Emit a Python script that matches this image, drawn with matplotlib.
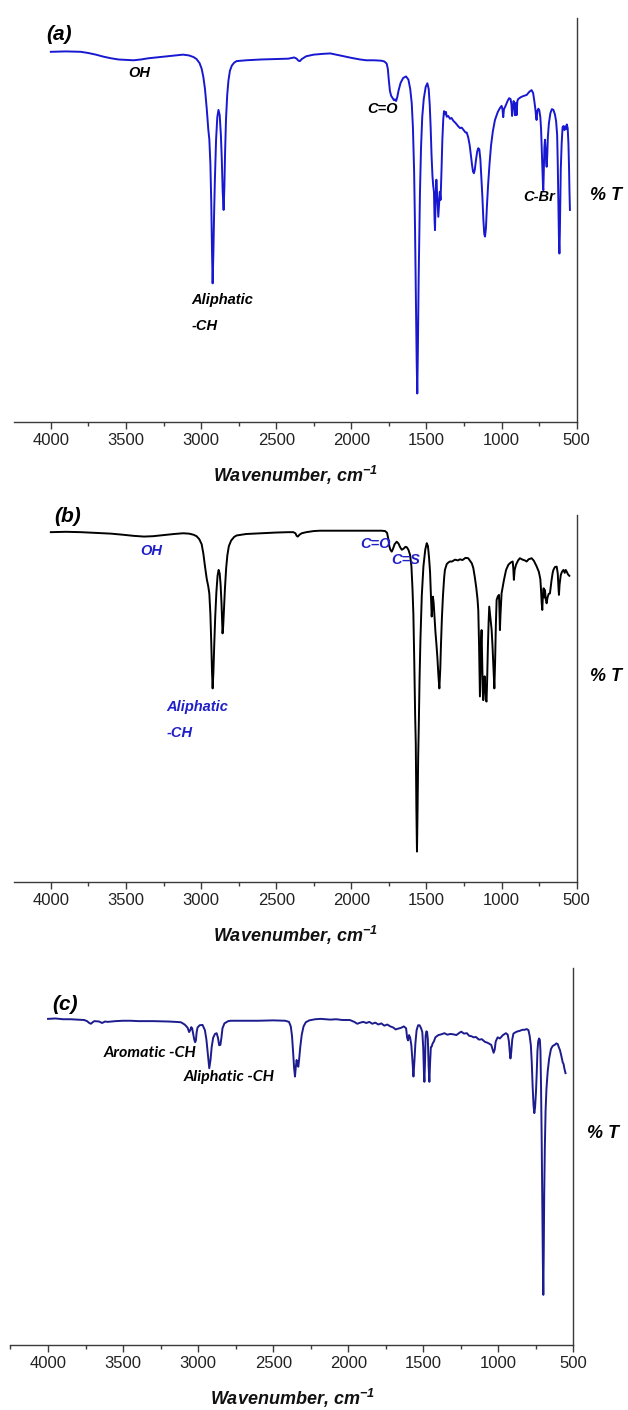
import matplotlib
matplotlib.use("Agg")
import matplotlib.pyplot as plt
from matplotlib.ticker import MultipleLocator

plt.rcParams['font.family'] = 'Liberation Sans'
plt.rcParams['mathtext.fontset'] = 'custom'
plt.rcParams['mathtext.rm'] = 'Liberation Sans:bold:italic'
plt.rcParams['mathtext.bf'] = 'Liberation Sans:bold:italic'
plt.rcParams['mathtext.it'] = 'Liberation Sans:bold:italic'

# (a) spectrum: wavenumber (cm-1) and transmittance (%)
wn_a = [4000, 3900, 3800, 3750, 3700, 3650, 3600, 3550, 3500, 3450, 3400, 3350,
        3300, 3250, 3200, 3150, 3120, 3080, 3050, 3030, 3010, 2996, 2985, 2974,
        2962, 2952, 2945, 2938, 2932, 2927, 2923, 2918, 2913, 2908, 2900, 2892,
        2884, 2876, 2868, 2862, 2856, 2850, 2845, 2840, 2834, 2826, 2818, 2808,
        2795, 2780, 2763, 2700, 2600, 2500, 2420, 2380, 2364, 2352, 2342, 2330,
        2300, 2250, 2187, 2140, 2100, 2050, 2000, 1942, 1900, 1850, 1800, 1780,
        1765, 1757, 1750, 1743, 1735, 1725, 1716, 1709, 1702, 1694, 1685, 1672,
        1655, 1636, 1620, 1608, 1598, 1590, 1582, 1576, 1570, 1565, 1561, 1557,
        1552, 1548, 1543, 1536, 1528, 1518, 1505, 1494, 1485, 1478, 1472, 1466,
        1460, 1455, 1450, 1446, 1443, 1439, 1434, 1430, 1426, 1421, 1416, 1411,
        1406, 1400, 1394, 1388, 1383, 1376, 1370, 1365, 1355, 1343, 1333, 1321,
        1305, 1290, 1277, 1265, 1250, 1240, 1232, 1222, 1212, 1204, 1196, 1190,
        1184, 1178, 1170, 1162, 1155, 1148, 1141, 1135, 1128, 1121, 1115, 1110,
        1104, 1098, 1090, 1080, 1070, 1058, 1044, 1025, 1010, 1000, 994, 989,
        984, 977, 960, 950, 940, 934, 930, 926, 920, 914, 911, 906, 900, 895,
        889, 870, 850, 833, 815, 800, 790, 782, 775, 770, 767, 762, 755, 749,
        742, 737, 733, 728, 724, 722, 719, 715, 711, 707, 703, 700, 696, 692,
        685, 675, 665, 655, 645, 637, 630, 626, 622, 618, 615, 612, 609, 606,
        600, 594, 588, 582, 578, 572, 566, 560, 555, 551, 548, 545]
t_a = [91.7, 91.8, 91.7, 91.4, 91.0, 90.5, 90.1, 89.8, 89.7, 89.6, 89.8, 90.1,
       90.3, 90.5, 90.7, 90.9, 91.0, 90.8, 90.4, 89.9, 88.9, 87.5, 85.5, 82.5,
       77.5, 72.5, 70.0, 64.0, 54.0, 42.0, 34.3, 42.0, 52.0, 60.0, 70.0, 75.5,
       77.3, 76.0, 71.0, 65.0, 57.0, 52.5, 58.0, 67.0, 75.0, 81.0, 84.5, 87.0,
       88.3, 89.0, 89.4, 89.6, 89.8, 89.9, 90.0, 90.3, 90.0, 89.5, 89.4, 89.9,
       90.6, 91.0, 91.2, 91.3, 91.0, 90.6, 90.2, 89.8, 89.6, 89.6, 89.5, 89.3,
       88.8, 87.5, 84.5, 82.0, 80.8, 80.2, 79.7, 79.9, 79.5, 80.5, 82.2, 84.0,
       85.2, 85.6, 84.8, 82.5, 79.0, 73.0, 62.0, 48.0, 30.0, 15.0, 7.0, 18.0,
       35.0, 45.0, 57.0, 68.0, 75.5, 80.0, 83.0, 83.9, 82.5, 78.5, 73.0, 66.0,
       61.0, 58.5, 57.0, 50.0, 47.5, 55.0, 60.0, 57.0, 54.0, 50.8, 54.0, 57.0,
       55.0, 62.0, 70.0, 75.0, 77.0, 76.2, 76.8, 75.6, 75.8, 75.1, 75.3, 74.6,
       74.0, 73.3, 72.8, 72.9, 72.2, 71.7, 71.7, 70.5, 68.5, 66.0, 63.5, 62.0,
       61.6, 62.5, 65.0, 67.0, 67.8, 67.5, 65.0, 61.0, 56.0, 50.0, 46.5, 45.9,
       48.0, 53.0, 58.5, 64.0, 68.5, 72.0, 74.8, 76.8, 77.8, 78.3, 77.5, 75.5,
       77.5, 78.0, 79.5, 80.2, 80.0, 78.5, 75.8, 77.5, 79.5, 78.5, 76.0, 79.0, 76.0, 79.5,
       80.0, 80.5, 80.8, 81.0, 81.8, 82.2, 81.5, 79.5, 77.5, 75.5, 74.8, 77.0, 77.6, 77.2,
       75.5, 72.5, 68.0, 62.0, 58.0, 57.4, 62.0, 68.0, 69.9, 67.5, 64.5, 63.2, 66.0, 70.5,
       74.0, 76.5, 77.5, 77.3, 76.2, 74.5, 71.0, 64.0, 54.0, 45.0, 41.7, 47.0, 55.0, 62.5,
       69.0, 73.0, 73.3, 72.3, 73.2, 72.5, 73.7, 72.8, 69.0, 63.0, 57.0, 52.5]

# (b) spectrum
wn_b = [4000, 3900, 3800, 3700, 3600, 3520, 3450, 3380, 3320, 3250, 3180, 3120,
        3080, 3050, 3030, 3012, 2996, 2985, 2974, 2962, 2952, 2945, 2938, 2932,
        2927, 2923, 2918, 2912, 2906, 2898, 2890, 2883, 2876, 2870, 2864, 2860,
        2857, 2853, 2848, 2841, 2833, 2825, 2815, 2800, 2780, 2763, 2700, 2600,
        2500, 2420, 2386, 2372, 2364, 2356, 2345, 2330, 2300, 2250, 2209, 2100,
        2000, 1900, 1800, 1775, 1762, 1754, 1747, 1740, 1731, 1722, 1712, 1698,
        1686, 1675, 1664, 1652, 1640, 1631, 1620, 1609, 1600, 1593, 1587, 1581,
        1575, 1571, 1567, 1563, 1559, 1555, 1551, 1546, 1540, 1531, 1520, 1508,
        1498, 1490, 1483, 1476, 1470, 1465, 1461, 1457, 1452, 1446, 1440, 1434,
        1427, 1420, 1414, 1408, 1403, 1397, 1390, 1382, 1377, 1365, 1355, 1344,
        1330, 1310, 1290, 1277, 1260, 1240, 1222, 1210, 1198, 1188, 1178, 1168,
        1160, 1155, 1150, 1146, 1144, 1140, 1136, 1133, 1129, 1125, 1122, 1118,
        1113, 1109, 1104, 1100, 1096, 1091, 1086, 1082, 1077, 1071, 1066, 1060,
        1054, 1048, 1043, 1038, 1033, 1025, 1017, 1014, 1011, 1007, 1000, 992,
        984, 970, 955, 940, 926, 922, 918, 913, 904, 890, 878, 860, 845, 833,
        820, 800, 785, 767, 752, 742, 738, 733, 729, 725, 720, 715, 711, 706,
        700, 694, 686, 678, 668, 660, 655, 645, 633, 626, 621, 618, 614, 606,
        598, 588, 580, 573, 566, 558, 549]
t_b = [95.3, 95.4, 95.3, 95.1, 94.9, 94.6, 94.3, 94.1, 94.2, 94.5, 94.8, 95.0,
       94.9, 94.6, 94.2, 93.4, 92.0, 89.5, 86.0, 82.5, 80.5, 78.5, 73.0, 65.0,
       57.0, 52.7, 57.0, 65.0, 72.0, 79.0, 83.5, 85.0, 84.0, 81.0, 76.0, 71.0,
       67.7, 69.5, 74.0, 80.0, 85.5, 89.0, 91.5, 93.0, 94.0, 94.4, 94.8, 95.0,
       95.2, 95.3, 95.3, 95.0, 94.3, 94.1, 94.6, 95.0, 95.3, 95.6, 95.7, 95.7,
       95.7, 95.7, 95.7, 95.6, 95.1, 93.5, 91.5, 90.5, 90.0, 90.8, 92.0, 92.7,
       92.2, 91.2, 90.5, 90.8, 91.3, 91.2, 90.5, 89.1, 86.0, 80.0, 73.0, 60.0,
       45.0, 37.7, 20.0, 8.2, 20.0, 34.0, 42.3, 55.0, 66.0, 78.0, 86.0, 90.5,
       92.3, 91.5, 88.5, 84.5, 78.0, 72.3, 75.0, 77.7, 76.0, 72.0, 68.0, 65.0,
       61.0, 56.0, 52.7, 58.0, 65.0, 72.0, 78.0, 83.0, 85.0, 86.6, 87.0, 87.3,
       87.3, 87.8, 87.6, 87.9, 87.7, 88.3, 88.2, 87.5, 86.8, 85.5, 83.0, 80.0,
       77.0, 74.0, 65.0, 55.0, 50.5, 58.0, 66.0, 68.6, 60.0, 52.0, 49.5, 53.0,
       56.0, 53.0, 49.5, 49.1, 55.0, 64.0, 71.0, 75.0, 73.0, 70.5, 68.6, 64.0,
       58.0, 52.7, 60.0, 70.0, 76.8, 77.8, 78.2, 74.0, 68.6, 73.0, 78.6, 80.5,
       82.3, 85.0, 86.4, 87.0, 87.3, 85.5, 82.3, 85.0, 86.4, 87.6, 88.2, 87.8, 87.6, 87.3,
       87.9, 88.2, 87.5, 86.0, 84.5, 82.5, 80.0, 76.0, 74.1, 78.0, 80.0, 77.5, 79.5, 77.0,
       75.9, 77.5, 78.5, 78.6, 82.0, 84.2, 85.0, 85.8, 85.9, 84.0, 80.0, 78.2, 81.0, 83.6,
       84.5, 85.0, 84.2, 85.0, 84.5, 83.8, 83.4]

# (c) spectrum
wn_c = [4000, 3950, 3900, 3850, 3800, 3760, 3740, 3725, 3714, 3703, 3692, 3660,
        3640, 3620, 3603, 3550, 3500, 3448, 3400, 3300, 3200, 3150, 3115, 3090,
        3071, 3060, 3053, 3046, 3040, 3033, 3026, 3020, 3015, 3010, 3004, 2990,
        2971, 2955, 2945, 2936, 2926, 2918, 2910, 2900, 2888, 2877, 2868, 2860,
        2852, 2845, 2838, 2825, 2800, 2783, 2700, 2600, 2500, 2420, 2395, 2383,
        2375, 2368, 2361, 2355, 2350, 2344, 2339, 2333, 2328, 2320, 2310, 2298,
        2283, 2260, 2220, 2184, 2150, 2120, 2080, 2040, 1990, 1960, 1940, 1920,
        1900, 1880, 1860, 1840, 1820, 1800, 1780, 1760, 1740, 1720, 1700, 1685,
        1669, 1650, 1630, 1615, 1608, 1602, 1595, 1588, 1580, 1572, 1566, 1560,
        1553, 1545, 1535, 1525, 1515, 1507, 1501, 1496, 1493, 1489, 1485, 1480,
        1475, 1470, 1465, 1460, 1455, 1450, 1445, 1438, 1430, 1420, 1400, 1380,
        1360, 1340, 1320, 1300, 1280, 1260, 1247, 1230, 1210, 1195, 1180, 1165,
        1150, 1130, 1110, 1090, 1075, 1065, 1048, 1040, 1032, 1025, 1018, 1005,
        990, 970, 950, 938, 930, 925, 920, 915, 908, 900, 879, 860, 840, 826,
        812, 800, 792, 784, 778, 772, 766, 761, 756, 750, 745, 740, 735, 729,
        724, 720, 716, 712, 708, 704, 701, 698, 695, 691, 686, 680, 672, 662,
        650, 639, 625, 614, 605, 598, 590, 580, 572, 566, 560, 553]
t_c = [86.5, 86.6, 86.4, 86.4, 86.3, 86.2, 85.9, 85.4, 85.2, 85.6, 85.9, 85.8,
       85.4, 85.8, 85.7, 85.9, 86.0, 86.0, 85.9, 85.9, 85.8, 85.7, 85.6, 85.0,
       84.2, 83.0, 83.5, 84.3, 84.0, 82.5, 81.0, 80.3, 80.8, 83.0, 84.2, 84.8,
       84.9, 83.5, 81.0, 77.5, 73.4, 75.5, 79.0, 81.5, 82.5, 82.7, 81.5, 79.5,
       79.6, 81.5, 84.0, 85.3, 85.9, 86.0, 86.0, 86.0, 86.1, 86.0, 85.7, 84.5,
       82.0, 78.0, 73.5, 71.2, 73.5, 75.6, 74.5, 73.8, 75.5, 79.0, 82.3, 84.5,
       85.6, 86.1, 86.4, 86.5, 86.4, 86.3, 86.4, 86.2, 86.2, 85.7, 85.2, 85.5,
       85.7, 85.4, 85.7, 85.2, 85.5, 85.0, 85.3, 84.7, 85.0, 84.5, 84.2, 83.7,
       83.9, 84.1, 84.5, 84.0, 81.5, 80.8, 82.2, 81.5, 79.5, 75.0, 71.2, 75.0,
       80.0, 83.5, 84.8, 84.8, 84.0, 83.0, 79.0, 72.0, 69.8, 75.0, 82.0, 83.2,
       83.0, 81.0, 74.0, 69.8, 75.0, 79.0, 79.1, 80.0, 80.5, 81.6, 82.2, 82.4,
       82.7, 82.3, 82.5, 82.4, 82.2, 82.8, 83.1, 82.6, 82.7, 82.0, 81.9, 81.6,
       81.7, 81.0, 81.1, 80.4, 80.2, 80.0, 79.6, 78.5, 77.5, 78.3, 80.5, 81.6,
       81.3, 82.2, 82.7, 82.3, 80.5, 78.0, 76.0, 77.5, 81.0, 82.6, 83.1, 83.3, 83.6, 83.6,
       83.8, 83.5, 82.0, 79.5, 75.0, 68.5, 63.5, 61.5, 63.0, 67.0, 72.0, 78.0, 80.5, 81.3,
       80.9, 78.0, 68.0, 55.0, 38.0, 22.0, 13.3, 25.0, 40.0, 52.0, 62.0, 68.0, 72.5, 76.0,
       78.5, 79.3, 79.6, 80.0, 79.8, 79.0, 78.2, 76.5, 75.0, 74.5, 73.2, 72.1]

AXIS_COLOR = '#3a3a3a'


def setup_axis(ax, xlim):
    ax.set_xlim(*xlim)
    ax.set_ylim(0, 100)
    ax.spines['left'].set_visible(False)
    ax.spines['top'].set_visible(False)
    for side in ('bottom', 'right'):
        ax.spines[side].set_color(AXIS_COLOR)
        ax.spines[side].set_linewidth(1.0)
    ax.set_yticks([])
    ax.xaxis.set_major_locator(MultipleLocator(500))
    ax.xaxis.set_minor_locator(MultipleLocator(250))
    ax.tick_params(axis='x', which='major', direction='out', length=5,
                   width=1.0, color=AXIS_COLOR, labelsize=12, pad=3,
                   labelcolor='#222222')
    ax.tick_params(axis='x', which='minor', direction='out', length=3,
                   width=1.0, color=AXIS_COLOR)
    ax.set_xlabel('Wavenumber, cm$^{-1}$', fontsize=13, fontweight='bold',
                  fontstyle='italic', color='#111111')
    ax.xaxis.set_label_coords(0.5, -0.105)
    ax.text(1.024, 0.56, '% T', transform=ax.transAxes, fontsize=13,
            fontweight='bold', fontstyle='italic', va='center', ha='left')


fig = plt.figure(figsize=(6.28, 14.10), dpi=100)

bold_it = dict(fontweight='bold', fontstyle='italic')

# panel (a)
ax_a = fig.add_axes([0.0223, 0.7009, 0.8960, 0.2861])
setup_axis(ax_a, (4245, 500))
ax_a.plot(wn_a, t_a, color='#1818d0', lw=1.4)
ax_a.text(4033, 95.9, '(a)', fontsize=15, va='center', ha='left', **bold_it)
ax_a.text(3414, 86.4, 'OH', fontsize=10.5, va='center', ha='center', **bold_it)
ax_a.text(3065, 30.3, 'Aliphatic', fontsize=10.5, va='center', ha='left', **bold_it)
ax_a.text(3065, 23.7, '-CH', fontsize=10.5, va='center', ha='left', **bold_it)
ax_a.text(1789, 77.4, 'C=O', fontsize=10.5, va='center', ha='center', **bold_it)
ax_a.text(751, 55.8, 'C-Br', fontsize=10.5, va='center', ha='center', **bold_it)

# panel (b)
label_blue = '#2020c8'
ax_b = fig.add_axes([0.0223, 0.3747, 0.8960, 0.2601])
setup_axis(ax_b, (4245, 500))
ax_b.xaxis.set_label_coords(0.5, -0.115)
ax_b.plot(wn_b, t_b, color='black', lw=1.4)
ax_b.text(3979, 99.5, '(b)', fontsize=15, va='center', ha='left', **bold_it)
ax_b.text(3334, 90.2, 'OH', fontsize=10.5, va='center', ha='center',
          color=label_blue, **bold_it)
ax_b.text(3229, 47.7, 'Aliphatic', fontsize=10.5, va='center', ha='left',
          color=label_blue, **bold_it)
ax_b.text(3229, 40.5, '-CH', fontsize=10.5, va='center', ha='left',
          color=label_blue, **bold_it)
ax_b.text(1838, 92.0, 'C=O', fontsize=10.5, va='center', ha='center',
          color=label_blue, **bold_it)
ax_b.text(1638, 87.7, 'C=S', fontsize=10.5, va='center', ha='center',
          color=label_blue, **bold_it)

# panel (c)
ax_c = fig.add_axes([0.0167, 0.0461, 0.8965, 0.2674])
setup_axis(ax_c, (4250, 500))
ax_c.xaxis.set_label_coords(0.5, -0.11)
ax_c.plot(wn_c, t_c, color='#1c1c8e', lw=1.4)
ax_c.text(3973, 90.2, '(c)', fontsize=15, va='center', ha='left', **bold_it)
ax_c.text(3627, 77.5, 'Aromatic -CH', fontsize=11.5, va='center', ha='left',
          family='Lato', **bold_it)
ax_c.text(3099, 71.0, 'Aliphatic -CH', fontsize=11.5, va='center', ha='left',
          family='Lato', **bold_it)

fig.savefig('out.png', dpi=100, facecolor='white')
